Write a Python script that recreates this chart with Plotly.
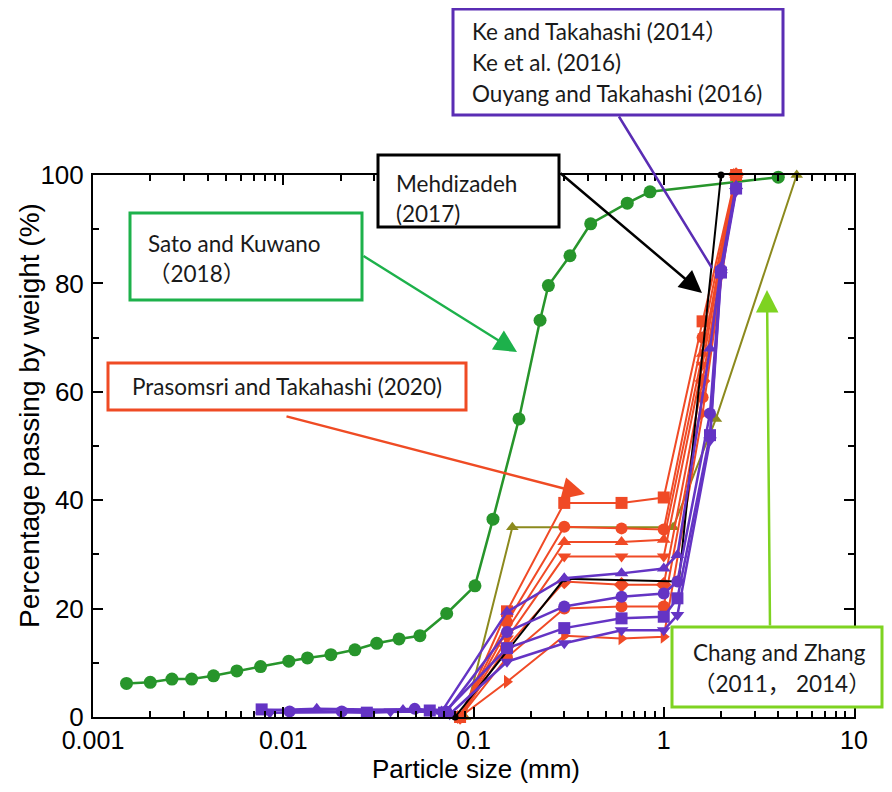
import plotly.graph_objects as go

# ---------------- data ----------------
sato_x = [0.0015, 0.002, 0.0026, 0.0033, 0.0043, 0.0057, 0.0076, 0.0107, 0.0134, 0.0178,
          0.0238, 0.031, 0.0406, 0.0523, 0.0723, 0.1018, 0.1266, 0.1734, 0.2238, 0.2475,
          0.3214, 0.413, 0.643, 0.847, 4.0]
sato_y = [6.2, 6.4, 7.0, 7.0, 7.6, 8.5, 9.3, 10.3, 10.9, 11.5,
          12.4, 13.6, 14.4, 15.0, 19.1, 24.2, 36.5, 55.0, 73.2, 79.6,
          85.1, 91.0, 94.8, 96.9, 99.6]

chang_x = [0.09, 0.16, 1.12, 1.88, 5.0]
chang_y = [0, 35, 35, 55, 100]

mehdi_x = [0.08, 0.3, 1.2, 2.0]
mehdi_y = [0, 25.5, 25, 100]

red_x = [0.085, 0.15, 0.3, 0.6, 1.0, 1.6, 2.4]
red_square = [0, 19.5, 39.5, 39.5, 40.5, 73, 100]
red_circle = [0, 17.5, 35.1, 34.8, 34.6, 70, 100]
red_tri_up = [0, 16, 32.3, 32.3, 32.7, 67, 100]
red_tri_down = [0, 14.5, 29.6, 29.6, 29.6, 65, 100]
red_diamond = [0, 13, 25, 24.4, 24.4, 62, 100]
red_circle2 = [0, 11, 20, 20.4, 20.4, 59, 100]
red_tri_right = [0, 6.5, 15, 14.5, 14.8, 56, 100]

pur_x_main = [0.15, 0.3, 0.6, 1.0, 1.18, 1.75, 2.0, 2.4]
pur_tu_fx = [0.0077, 0.015, 0.0426, 0.068]
pur_tu_fy = [1.2, 1.5, 1.3, 1.0]
pur_tu = [19.4, 25.6, 26.5, 27.4, 29.9, 68, 83, 98]
pur_ci_fx = [0.0108, 0.0203, 0.0491, 0.072]
pur_ci_fy = [1.0, 1.0, 1.5, 1.0]
pur_ci = [15.7, 20.4, 22.2, 22.8, 25.0, 56, 82.5, 97.5]
pur_sq_fx = [0.0077, 0.0275, 0.0589, 0.07]
pur_sq_fy = [1.4, 0.8, 1.2, 0.8]
pur_sq = [12.7, 16.4, 18.2, 18.5, 21.9, 52, 82, 97.5]
pur_td_fx = [0.0085, 0.0366, 0.0665, 0.075]
pur_td_fy = [0.8, 1.0, 1.0, 0.5]
pur_td = [10.2, 13.6, 16.0, 16.0, 18.8, 51, 81.5, 97]

x_tickvals = [0.001, 0.01, 0.1, 1, 10]
x_ticktext = ["0.001", "0.01", "0.1", "1", "10"]
y_tickvals = [0, 20, 40, 60, 80, 100]

# ---------------- styling ----------------
GREEN = "#27952B"
RED = "#F04A26"
PURPLE = "#6434C4"
OLIVE = "#8C8A1E"
BLACK = "#000000"

OFF = 8  # page body margin
L, R, T, B = 93, 854, 175, 717   # plot area in window pixels
W, H = 876, 776                  # figure size (window minus body margins)


def PX(px):
    return (px - L) / (R - L)


def PY(py):
    return (B - py) / (B - T)


fig = go.Figure()


def add(x, y, color, symbol, size=12, width=2):
    fig.add_trace(go.Scatter(
        x=x, y=y, mode="lines+markers",
        line=dict(color=color, width=width),
        marker=dict(symbol=symbol, size=size, color=color),
        cliponaxis=False, showlegend=False, hoverinfo="x+y"))


add(sato_x, sato_y, GREEN, "circle", 13, 2.5)
add(chang_x, chang_y, OLIVE, "triangle-up", 11, 2)
for ys, sym in [(red_square, "square"), (red_circle, "circle"), (red_tri_up, "triangle-up"),
                (red_tri_down, "triangle-down"), (red_diamond, "diamond"),
                (red_circle2, "circle"), (red_tri_right, "triangle-right")]:
    add(red_x, ys, RED, sym, 12, 2)
add(mehdi_x, mehdi_y, BLACK, "circle", 7, 2)
for fx, fy, ys, sym in [(pur_tu_fx, pur_tu_fy, pur_tu, "triangle-up"),
                        (pur_ci_fx, pur_ci_fy, pur_ci, "circle"),
                        (pur_sq_fx, pur_sq_fy, pur_sq, "square"),
                        (pur_td_fx, pur_td_fy, pur_td, "triangle-down")]:
    add(fx + pur_x_main, fy + ys, PURPLE, sym, 12, 2.5)

minor_x = [m * 10 ** e for e in range(-3, 1) for m in range(2, 10)]

AX_FONT = dict(family="Liberation Sans, Arial", size=25, color="black")
XT_FONT = dict(family="Liberation Sans, Arial", size=26, color="black")
YT_FONT = dict(family="Liberation Sans, Arial", size=28, color="black")
fig.update_xaxes(
    type="log", range=[-3, 1], tickvals=x_tickvals, ticktext=x_ticktext,
    ticks="inside", ticklen=10, tickwidth=2, tickcolor="black",
    showline=True, linecolor="black", linewidth=2, mirror="ticks",
    showgrid=False, zeroline=False, ticklabelstandoff=0, automargin=False,
    minor=dict(tickvals=minor_x, ticks="inside", ticklen=6, tickwidth=2, tickcolor="black", showgrid=False),
    tickfont=AX_FONT,
)
fig.update_yaxes(
    range=[0, 100], tickvals=y_tickvals,
    ticks="inside", ticklen=10, tickwidth=2, tickcolor="black",
    showline=True, linecolor="black", linewidth=2, mirror="ticks",
    showgrid=False, zeroline=False, automargin=False, ticklabelstandoff=2,
    minor=dict(tickvals=[10, 30, 50, 70, 90], ticks="inside", ticklen=6, tickwidth=2, tickcolor="black", showgrid=False),
    tickfont=dict(family="Liberation Sans, Arial", size=26, color="black"),
)
# axis titles placed as in the reference
fig.add_annotation(x=PX(476), y=PY(769), xref="paper", yref="paper",
                   text="Particle size (mm)", showarrow=False,
                   xanchor="center", yanchor="middle", font=XT_FONT)
fig.add_annotation(x=PX(29), y=PY(416), xref="paper", yref="paper",
                   text="Percentage passing by weight (%)", textangle=-90,
                   showarrow=False, xanchor="center", yanchor="middle", font=YT_FONT)

# ---------------- boxes ----------------
boxes = [
    (130, 213, 362, 300, "#1DB14B"),
    (108, 363, 466, 410, "#EF4B24"),
    (378, 155, 559, 227, "#000000"),
    (453, 9, 783, 115, "#5A2DB4"),
    (672, 627, 882, 707, "#7ED321"),
]
for x0, y0, x1, y1, c in boxes:
    fig.add_shape(type="rect", xref="paper", yref="paper",
                  x0=PX(x0), x1=PX(x1), y0=PY(y1), y1=PY(y0),
                  line=dict(color=c, width=3), fillcolor="white", layer="above")

TXT_FONT = dict(family="Lato, Noto Sans CJK JP, sans-serif", size=22.5, color="#1a1a1a")
texts = [
    (146, 243, "Sato and Kuwano"),
    (146, 273, "（2018）"),
    (130, 386, "Prasomsri and Takahashi (2020)"),
    (394, 183, "Mehdizadeh"),
    (394, 213, "(2017)"),
    (470, 32, "Ke and Takahashi (2014）"),
    (470, 63, "Ke et al. (2016)"),
    (470, 93, "Ouyang and Takahashi (2016)"),
    (691, 652, "Chang and Zhang"),
    (691, 683, "（2011， 2014）"),
]
for x, y, t in texts:
    fig.add_annotation(x=PX(x), y=PY(y), xref="paper", yref="paper", text=t,
                       showarrow=False, xanchor="left", yanchor="middle", font=TXT_FONT)

# ---------------- arrows ----------------
arrows = [
    (362, 255, 517, 352, "#1DB14B", 2),
    (285, 416, 585, 494, "#EF4B24", 2),
    (559, 172, 702, 293, "#000000", 2),
    (618, 115, 712, 268, "#5A2DB4", 0),
    (770, 627, 767, 290, "#7ED321", 2),
]
for tx, ty, hx, hy, c, head in arrows:
    fig.add_annotation(x=PX(hx), y=PY(hy), xref="paper", yref="paper",
                       ax=tx - hx, ay=ty - hy, text="", showarrow=True,
                       arrowhead=head, arrowsize=1.8, arrowwidth=2.5, arrowcolor=c)

fig.update_layout(
    width=W, height=H,
    margin=dict(l=L - OFF, r=(W + OFF) - R, t=T - OFF, b=(H + OFF) - B, pad=0, autoexpand=False),
    paper_bgcolor="white", plot_bgcolor="white",
    showlegend=False,
)

fig.write_html("out.html")
